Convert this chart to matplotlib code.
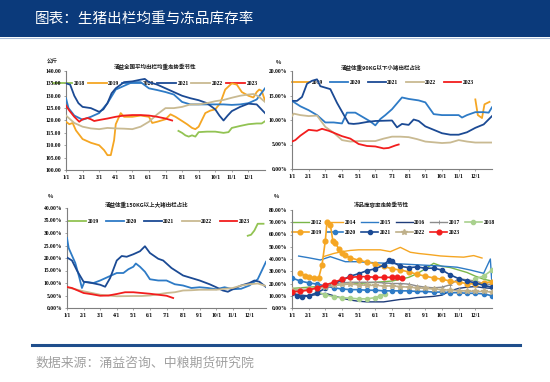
import matplotlib
matplotlib.use('Agg')
import matplotlib.pyplot as plt
from matplotlib.patches import Rectangle
from matplotlib.lines import Line2D
from matplotlib.font_manager import FontProperties
from matplotlib.ticker import FuncFormatter

plt.rcParams['font.family'] = ['Liberation Serif', 'Noto Sans CJK SC', 'DejaVu Sans']

# ---------------- data ----------------
month_ticks = list(range(12))
month_labels = ['1/1', '2/1', '3/1', '4/1', '5/1', '6/1', '7/1', '8/1', '9/1', '10/1', '11/1', '12/1']

# Panel 1: average slaughter weight (kg); x = months since 1/1
w2018_x = [6.78, 7.0, 7.2, 7.4, 7.6, 7.8, 8.0, 8.5, 9.0, 9.5, 9.8, 10.0, 10.5, 11.0, 11.5, 11.8, 12.0]
w2018 = [115.8, 115.0, 114.0, 113.5, 114.0, 113.5, 115.3, 115.5, 115.5, 115.0, 115.3, 117.0, 117.8, 118.5, 118.8, 118.8, 119.7]
w2019_x = [0, 0.2, 0.4, 0.6, 1.0, 1.5, 2.0, 2.3, 2.5, 2.7, 2.9, 3.0, 3.3, 3.5, 4.0, 4.5, 5.0, 5.2, 5.5, 6.0, 6.3, 6.6,
           7.0, 7.3, 7.6, 7.8, 8.0, 8.4, 8.7, 9.0, 9.3, 9.6, 10.0, 10.3, 10.6, 11.0, 11.3, 11.5, 11.65, 11.8, 12.0]
w2019 = [119.5, 118.5, 119.0, 116.0, 112.5, 111.0, 110.0, 108.0, 106.0, 106.0, 112.0, 118.5, 123.0, 121.5, 121.5, 122.0,
         121.5, 119.0, 119.5, 120.5, 122.5, 121.5, 119.8, 118.5, 117.0, 116.5, 117.5, 123.0, 124.0, 124.5, 127.0, 132.5,
         135.0, 134.5, 131.5, 130.0, 129.3, 131.5, 132.5, 132.0, 128.0]
w2020_x = [0, 0.15, 0.5, 1.0, 1.5, 2.0, 2.5, 3.0, 3.5, 4.0, 4.5, 5.0, 5.5, 6.0, 6.5, 7.0, 7.5, 8.0, 8.5, 9.0, 9.5,
           10.0, 10.5, 11.0, 11.5, 12.0]
w2020 = [129.0, 125.0, 122.0, 120.3, 121.5, 123.0, 127.0, 132.5, 134.0, 135.5, 135.5, 133.0, 132.3, 131.5, 130.5,
         127.5, 126.5, 126.5, 126.5, 126.5, 126.5, 126.3, 126.5, 127.0, 128.5, 133.0]
w2021_x = [0, 0.25, 0.5, 0.75, 1.0, 1.5, 2.0, 2.25, 2.5, 2.75, 3.0, 3.5, 4.0, 4.5, 4.75, 5.0, 5.5, 6.0, 6.5, 7.0,
           7.5, 8.0, 8.5, 9.0, 9.25, 9.5, 9.75, 10.0, 10.5, 11.0, 11.5, 12.0]
w2021 = [135.0, 134.5, 130.0, 127.0, 125.5, 125.0, 123.5, 124.5, 127.0, 131.0, 133.0, 135.5, 135.8, 136.5, 136.8,
         135.5, 134.5, 133.0, 131.5, 130.0, 129.0, 128.2, 127.0, 124.5, 122.0, 120.0, 122.0, 123.8, 125.5, 126.8,
         126.5, 123.0]
w2022_x = [0, 0.5, 1.0, 1.5, 2.0, 2.5, 3.0, 3.5, 4.0, 4.5, 5.0, 5.5, 6.0, 6.5, 7.0, 7.5, 8.0, 8.5, 9.0, 9.5, 10.0,
           10.5, 11.0, 11.3, 11.6, 12.0]
w2022 = [122.0, 119.0, 117.5, 116.8, 116.5, 117.0, 116.8, 116.7, 116.5, 117.5, 119.5, 122.5, 125.0, 125.0, 125.5,
         126.5, 126.5, 127.0, 127.8, 128.3, 129.2, 130.0, 130.5, 130.7, 129.8, 127.5]
w2023_x = [0, 0.2, 0.5, 0.8, 1.0, 1.3, 1.5, 1.7, 2.0, 2.5, 3.0, 3.5, 4.0, 4.5, 5.0, 5.5, 6.0, 6.4]
w2023 = [126.0, 124.0, 121.5, 119.5, 120.5, 121.0, 120.5, 119.8, 120.2, 120.8, 121.5, 122.0, 122.2, 122.2, 122.0,
         121.5, 120.8, 120.0]

# Panel 2: share of pigs under 90 kg (%)
s2019_x = [11.0, 11.15, 11.4, 11.55, 11.85]
s2019 = [14.2, 11.0, 10.4, 13.2, 13.7]
s2020_x = [0, 0.5, 1.0, 1.5, 2.0, 2.5, 3.0, 3.3, 3.8, 4.3, 4.7, 5.0, 5.3, 5.6, 6.0, 6.6, 7.0, 7.6, 8.0, 8.5, 9.0,
           9.5, 10.0, 10.2, 10.5, 11.0, 11.5, 11.8, 12.0]
s2020 = [13.9, 12.8, 12.0, 11.0, 9.5, 9.5, 9.3, 11.5, 11.5, 10.5, 9.7, 8.9, 10.2, 11.0, 12.2, 14.6, 14.3, 14.0, 13.6,
         11.2, 11.0, 11.0, 11.0, 10.5, 11.0, 11.6, 11.6, 11.5, 12.6]
s2021_x = [0, 0.3, 0.6, 0.9, 1.2, 1.5, 1.7, 2.0, 2.3, 2.7, 3.0, 3.4, 3.7, 4.0, 4.5, 5.0, 6.0, 6.3, 6.6, 7.0, 7.3,
           7.6, 8.0, 8.5, 9.0, 9.5, 10.0, 10.5, 11.0, 11.5, 12.0]
s2021 = [13.9, 13.9, 14.7, 17.4, 18.0, 18.3, 16.9, 16.6, 16.3, 13.5, 11.7, 9.3, 9.2, 9.3, 9.6, 9.8, 9.9, 8.5, 9.2,
         9.0, 10.1, 9.8, 8.7, 8.0, 7.3, 7.0, 7.0, 7.5, 8.4, 9.1, 10.8]
s2022_x = [0, 0.1, 0.5, 1.0, 1.5, 2.0, 2.5, 3.0, 3.5, 4.0, 5.0, 5.5, 6.0, 6.5, 7.0, 7.5, 8.0, 9.0, 9.5, 10.0, 10.5,
           11.0, 12.0]
s2022 = [10.8, 11.3, 11.0, 10.8, 10.9, 8.6, 7.4, 5.9, 5.6, 5.7, 5.7, 6.2, 6.6, 6.6, 6.5, 6.1, 5.6, 5.3, 5.4, 5.9,
         5.6, 5.4, 5.4]
s2023_x = [0, 0.2, 0.5, 1.0, 1.5, 1.8, 2.2, 2.5, 3.0, 3.5, 4.0, 4.5, 5.0, 5.5, 5.8, 6.2, 6.4]
s2023 = [5.6, 5.9, 6.8, 8.0, 7.8, 8.2, 7.8, 7.4, 6.7, 6.2, 5.1, 4.7, 4.6, 4.2, 4.3, 4.8, 5.0]

# Panel 3: share of pigs above 150 kg (%)
b2019_x = [10.9, 11.1, 11.3, 11.5, 11.85]
b2019 = [28.9, 29.3, 31.0, 33.7, 33.7]
b2020_x = [0, 0.1, 0.3, 0.5, 0.75, 0.9, 1.05, 1.3, 1.6, 2.0, 2.5, 3.0, 3.4, 3.7, 4.0, 4.15, 4.4, 4.7, 5.0, 5.5, 6.0,
           6.5, 7.0, 7.5, 8.0, 8.5, 9.0, 9.5, 10.0, 10.5, 11.0, 11.5, 11.75, 12.0]
b2020 = [28.0, 24.0, 21.0, 18.0, 12.0, 8.0, 10.5, 10.3, 10.0, 11.0, 12.5, 14.0, 14.0, 15.5, 16.5, 17.8, 16.5, 14.5,
         11.5, 11.0, 11.0, 9.5, 9.0, 8.0, 8.3, 8.0, 7.5, 8.3, 7.5, 7.7, 9.0, 11.5, 15.0, 18.5]
b2021_x = [0, 0.3, 0.6, 1.0, 1.5, 2.0, 2.3, 2.6, 3.0, 3.3, 3.6, 4.0, 4.4, 4.7, 5.0, 5.5, 5.8, 6.3, 7.0, 7.5, 8.0,
           8.6, 9.0, 9.4, 9.7, 10.0, 10.5, 11.0, 11.3, 11.6, 12.0]
b2021 = [20.2, 19.0, 15.0, 10.5, 10.0, 9.3, 8.5, 12.0, 19.0, 20.8, 20.5, 21.5, 22.7, 24.7, 22.0, 19.7, 19.0, 16.0,
         13.0, 12.0, 11.0, 9.5, 8.3, 7.0, 6.5, 7.5, 9.0, 10.0, 11.0, 10.5, 8.4]
b2022_x = [0, 0.5, 1.0, 1.5, 2.0, 2.5, 3.0, 4.0, 4.5, 5.0, 5.5, 6.0, 6.5, 7.0, 7.5, 8.0, 9.0, 10.0, 10.5, 11.0,
           11.5, 12.0]
b2022 = [8.3, 7.5, 6.7, 6.0, 5.3, 5.0, 4.7, 4.8, 4.8, 5.0, 5.5, 6.0, 6.3, 7.0, 7.1, 7.3, 7.3, 8.0, 9.0, 9.5, 9.8, 8.8]
b2023_x = [0, 0.3, 1.0, 1.5, 2.0, 2.5, 3.0, 3.5, 4.0, 5.0, 5.5, 6.0, 6.4]
b2023 = [8.4, 8.0, 6.0, 5.5, 4.9, 5.0, 5.6, 6.3, 6.3, 5.7, 5.3, 4.9, 4.0]

# Panel 4: frozen-storage utilisation (%)
f2012_x = [0, 1, 2, 3, 4, 5, 6, 7, 7.5, 8.0, 8.5, 9.0, 9.5, 10.0, 10.5, 11.0, 11.5, 12.0]
f2012 = [16, 17, 18, 19, 20, 21, 22, 25, 28, 32, 36.5, 34, 33, 31, 29, 26, 23.5, 22]
f2014_x = [1.9, 2.5, 3.0, 3.5, 4.0, 4.7, 5.3, 5.9, 6.5, 7.1, 7.6, 8.3, 8.9, 9.5, 10.3, 10.9, 11.4]
f2014 = [42, 44.5, 46, 47, 47.5, 47.5, 47.5, 46, 49.5, 45.5, 44.5, 43.5, 42.5, 42, 41.5, 42.8, 40.8]
f2015_x = [0.4, 1.0, 1.7, 2.3, 3.2, 3.9, 4.9, 6.5, 7.9, 8.9, 9.9, 10.7, 11.5, 11.9, 12.0]
f2015 = [42.4, 41, 39.2, 41.9, 37.8, 37.8, 37, 36, 35, 34.3, 33.3, 31, 28.3, 40, 19]
f2016_x = [0, 0.5, 1.0, 1.5, 2.0, 2.5, 3.0, 3.5, 4.0, 4.5, 5.0, 5.5, 6.0, 6.5, 7.0, 7.5, 8.0, 8.5, 9.0, 9.5, 10.0,
           10.5, 11.0, 11.5, 12.0]
f2016 = [12, 10.5, 10, 11, 12, 10, 8, 6.5, 5.5, 5, 5, 5, 6, 7, 7.5, 8.5, 9, 9.5, 10.5, 14, 16, 17, 17.5, 16.5, 16]
f2017_x = [0, 0.5, 1.0, 1.5, 2.0, 2.5, 3.0, 3.5, 4.0, 4.5, 5.0, 5.5, 6.0, 6.5, 7.0, 7.5, 8.0, 8.5, 9.0, 9.5, 10.0,
           10.5, 11.0, 11.5, 12.0]
f2017 = [14, 14.5, 15, 16.5, 18, 19.5, 20.5, 21, 21, 21, 21, 20.5, 20, 20, 19.5, 18, 17, 16.5, 17, 19, 24, 23, 22,
         20, 19]
f2018_x = [1.5, 2.0, 2.5, 3.0, 3.5, 4.0, 4.5, 5.0, 5.3, 5.6, 8.5, 11.0, 11.5, 12.0]
f2018 = [13, 11, 9, 8.5, 8, 7.5, 7.5, 8.5, 10, 11.5, None, 24, 26, 31]
f2019_x = [0.5, 0.75, 1.0, 1.3, 1.6, 1.8, 2.0, 2.1, 2.3, 2.45, 2.6, 2.8, 3.0, 3.2, 3.5, 4.0, 4.5, 5.0, 5.5, 6.0,
           6.5, 7.0, 7.5, 8.0, 8.5, 9.0, 9.5, 10.0, 10.5, 11.0, 11.5, 12.0]
f2019 = [28.5, 26.5, 25.5, 24.5, 24.5, 35, 55, 70.5, 68, 55, 53, 48.5, 45, 43, 41, 39, 37.5, 36, 34, 32, 31, 29.5,
         27.5, 26, 24.5, 23.5, 22, 21, 20, 19.5, 20.5, 21.5]
f2020_x = [0, 0.5, 1.0, 1.5, 2.0, 2.5, 3.0, 3.5, 4.0, 4.5, 5.0, 5.5, 6.0, 6.5, 7.0, 7.5, 8.0, 8.5, 9.0, 9.5, 10.0,
           10.5, 11.0, 11.5, 12.0]
f2020 = [24.5, 22, 20.5, 19.5, 18, 16.5, 15.5, 15, 15, 14.5, 14.5, 14, 14, 14, 14, 13.5, 13.5, 13, 13, 12.5, 12.5,
         12, 12, 11.5, 10]
f2021_x = [0, 0.3, 0.6, 1.0, 1.5, 2.0, 2.5, 3.0, 3.5, 4.0, 4.5, 5.0, 5.5, 5.8, 6.0, 6.5, 7.0, 7.5, 8.0, 8.5, 9.0,
           9.5, 10.0, 10.5, 11.0, 11.5, 12.0]
f2021 = [12, 10, 9, 10, 12.5, 16, 19.5, 23, 26, 28, 30.5, 32, 35, 39, 38, 34, 33, 33.5, 32.5, 32.5, 31, 27, 24, 22,
         20.5, 18.5, 17]
f2022_x = [0, 0.5, 1.0, 1.5, 2.0, 2.5, 3.0, 3.5, 4.0, 4.5, 5.0, 5.5, 6.0, 6.5, 7.0, 7.5, 8.0, 8.5, 9.0, 9.5, 10.0,
           10.5, 11.0, 11.5, 12.0]
f2022 = [15, 15, 15.5, 16, 17, 18.5, 19.5, 19.5, 19, 18.5, 18.5, 18, 18, 17.5, 17, 16.5, 16, 15.5, 15, 14.5, 14,
         14, 13.5, 13.5, 13]
f2023_x = [0, 0.5, 1.0, 1.5, 2.0, 2.5, 3.0, 3.5, 4.0, 4.5, 5.0, 5.5, 6.0, 6.3, 6.6]
f2023 = [13.3, 13.5, 14.7, 16.5, 18.8, 21, 23.4, 25, 25.6, 25.6, 25, 25, 25, 25, 24.2]

# ---------------- style ----------------
C18 = '#92C353'
C19 = '#F5A623'
C20 = '#2E7BC6'
C21 = '#1B4A94'
C22 = '#C9BA92'
C23 = '#F21D1D'

W, H = 550, 382
fig = plt.figure(figsize=(5.5, 3.82), dpi=100)
fig.patch.set_facecolor('white')

def fx(px):
    return px / W

def fy(py):
    return 1 - py / H

# header bar
fig.patches.append(Rectangle((0, fy(37)), 1, 37 / H, transform=fig.transFigure,
                             facecolor='#0B3A7B', edgecolor='none', zorder=0))
fig.lines.append(Line2D([0, 1], [fy(38), fy(38)], transform=fig.transFigure,
                        color='#A9BCD8', lw=0.8))
fig.text(fx(35), fy(19), '图表：生猪出栏均重与冻品库存率', color='white', fontsize=10.5,
         family=['Noto Sans CJK SC', 'DejaVu Sans'], va='center', ha='left')
# footer
fig.lines.append(Line2D([fx(32), fx(520)], [fy(345), fy(345)], transform=fig.transFigure,
                        color='#1F4E8C', lw=2.2))
fig.text(fx(35), fy(363), '数据来源：涌益咨询、中粮期货研究院', color='#A0A0A0', fontsize=9.3,
         family=['Noto Sans CJK SC', 'DejaVu Sans'], va='center', ha='left')

tick_font = FontProperties(family='Liberation Serif', weight='bold', size=4)
leg_font = FontProperties(family='Liberation Serif', weight='bold', size=4)
cjk_font = FontProperties(family='Noto Sans CJK SC', weight='bold', size=4)


def make_axes(box, ylim, yticks, fmt, title, title_xy, unit, unit_xy):
    l, t, r, b = box
    ax = fig.add_axes([fx(l), fy(b), fx(r - l), (b - t) / H])
    ax.set_xlim(0, 12)
    ax.set_ylim(*ylim)
    ax.set_yticks(yticks)
    ax.yaxis.set_major_formatter(FuncFormatter(fmt))
    ax.set_xticks(month_ticks)
    ax.set_xticklabels(month_labels)
    for lab in ax.get_xticklabels() + ax.get_yticklabels():
        lab.set_fontproperties(tick_font)
    ax.tick_params(axis='both', length=1.5, width=0.5, color='#808080', pad=2)
    for s in ['top', 'right']:
        ax.spines[s].set_visible(False)
    for s in ['left', 'bottom']:
        ax.spines[s].set_color('#7F7F7F')
        ax.spines[s].set_linewidth(0.8)
    fig.text(fx(title_xy[0]), fy(title_xy[1]), title, fontproperties=cjk_font,
             ha='center', va='center', color='#202020')
    fig.text(fx(unit_xy[0]), fy(unit_xy[1]), unit, fontproperties=cjk_font,
             ha='center', va='center', color='#202020')
    return ax


def add_legend(ax, anchor, ncol, handlelength, columnspacing, labelspacing=0.5):
    leg = ax.legend(loc='center left', bbox_to_anchor=anchor, ncol=ncol, frameon=False,
                    prop=leg_font, handlelength=handlelength, handletextpad=0.3,
                    columnspacing=columnspacing, borderpad=0, borderaxespad=0,
                    labelspacing=labelspacing)
    leg.set_zorder(1)
    return leg

LW = 1.3

# ----- Panel 1 -----
ax1 = make_axes((66, 71, 265, 170), (100, 140), list(range(100, 141, 5)),
                lambda v, p: f'{v:.2f}', '涌益全国平均出栏均重走势季节性', (155, 67), '公斤', (52, 62))
ax1.plot(w2018_x, w2018, color=C18, lw=LW, label='2018', zorder=3)
ax1.plot(w2019_x, w2019, color=C19, lw=LW, label='2019', zorder=3)
ax1.plot(w2020_x, w2020, color=C20, lw=LW, label='2020', zorder=3)
ax1.plot(w2021_x, w2021, color=C21, lw=LW, label='2021', zorder=3)
ax1.plot(w2022_x, w2022, color=C22, lw=LW, label='2022', zorder=3)
ax1.plot(w2023_x, w2023, color=C23, lw=LW, label='2023', zorder=3)
add_legend(ax1, (-0.065, 0.875), 6, 3.4, 0.5)

# ----- Panel 2 -----
pct = lambda v, p: f'{v:.2f}%'
ax2 = make_axes((292, 71, 492, 169), (0, 20), list(range(0, 21, 5)), pct,
                '涌益体重90KG以下小猪出栏占比', (381, 67), '%', (278, 62))
ax2.plot(s2019_x, s2019, color=C19, lw=LW, label='2019', zorder=3)
ax2.plot(s2020_x, s2020, color=C20, lw=LW, label='2020', zorder=3)
ax2.plot(s2021_x, s2021, color=C21, lw=LW, label='2021', zorder=3)
ax2.plot(s2022_x, s2022, color=C22, lw=LW, label='2022', zorder=3)
ax2.plot(s2023_x, s2023, color=C23, lw=LW, label='2023', zorder=3)
add_legend(ax2, (0.0, 0.88), 5, 3.2, 1.3)

# ----- Panel 3 -----
ax3 = make_axes((67, 208, 266, 308), (0, 40), list(range(0, 41, 5)), pct,
                '涌益体重150KG以上大猪出栏占比', (147, 205), '%', (50, 197))
ax3.plot(b2019_x, b2019, color=C18, lw=LW, label='2019', zorder=3)
ax3.plot(b2020_x, b2020, color=C20, lw=LW, label='2020', zorder=3)
ax3.plot(b2021_x, b2021, color=C21, lw=LW, label='2021', zorder=3)
ax3.plot(b2022_x, b2022, color=C22, lw=LW, label='2022', zorder=3)
ax3.plot(b2023_x, b2023, color=C23, lw=LW, label='2023', zorder=3)
add_legend(ax3, (0.005, 0.868), 5, 3.2, 1.3)

# ----- Panel 4 -----
ax4 = make_axes((292, 210, 492, 308), (0, 80), list(range(0, 81, 10)), pct,
                '冻品库容率走势季节性', (381, 205), '%', (276, 197))
L = 1.0
LM = 1.2
MS = 3.0
h = {}
h['2012'], = ax4.plot(f2012_x, f2012, color='#7AB648', lw=L, label='2012', zorder=3)
h['2014'], = ax4.plot(f2014_x, f2014, color=C19, lw=L, label='2014', zorder=3)
h['2015'], = ax4.plot(f2015_x, f2015, color=C20, lw=L, label='2015', zorder=3)
h['2016'], = ax4.plot(f2016_x, f2016, color='#1F3D7A', lw=L, label='2016', zorder=3)
h['2017'], = ax4.plot(f2017_x, f2017, color='#8C8C8C', lw=L, marker='+', markersize=2.8, markeredgewidth=0.6,
                      label='2017', zorder=3)
f2018_y = [float('nan') if v is None else v for v in f2018]
h['2018'], = ax4.plot(f2018_x, f2018_y, color='#A9D18E', lw=LM, marker='o', markersize=MS, label='2018', zorder=3)
h['2019'], = ax4.plot(f2019_x, f2019, color=C19, lw=LM, marker='o', markersize=MS + 0.4, label='2019', zorder=4)
h['2020'], = ax4.plot(f2020_x, f2020, color=C20, lw=LM, marker='o', markersize=MS, label='2020', zorder=4)
h['2021'], = ax4.plot(f2021_x, f2021, color=C21, lw=LM, marker='o', markersize=MS, label='2021', zorder=4)
h['2022'], = ax4.plot(f2022_x, f2022, color='#BFB08A', lw=LM, marker='*', markersize=MS + 0.8, label='2022', zorder=4)
h['2023'], = ax4.plot(f2023_x, f2023, color=C23, lw=LM, marker='o', markersize=MS + 0.4, label='2023', zorder=5)
order = ['2012', '2019', '2014', '2020', '2015', '2021', '2016', '2022', '2017', '2023', '2018']
leg4 = ax4.legend([h[k] for k in order], order, loc='center left', bbox_to_anchor=(0.0, 0.82), ncol=6,
                  frameon=False, prop=leg_font, handlelength=3.0, handletextpad=0.3, columnspacing=0.9,
                  borderpad=0, borderaxespad=0, labelspacing=0.9)
leg4.set_zorder(1)

fig.savefig('out.png', dpi=100, facecolor='white')
